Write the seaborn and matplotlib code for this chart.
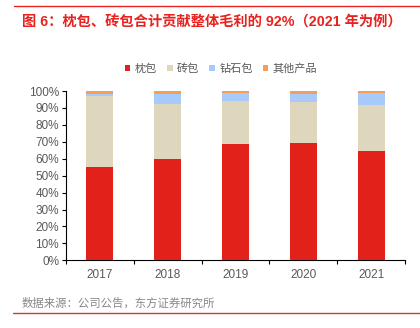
import matplotlib
matplotlib.use("Agg")
import matplotlib.pyplot as plt
import seaborn as sns
import pandas as pd
import numpy as np
from matplotlib.patches import Patch
from matplotlib.lines import Line2D

years = ["2017", "2018", "2019", "2020", "2021"]
series_names = ["枕包", "砖包", "钻石包", "其他产品"]
zhenbao = [55.0, 60.0, 68.6, 69.4, 64.3]
zhuanbao = [42.2, 32.4, 25.7, 23.9, 27.6]
zuanshibao = [1.0, 5.9, 4.5, 5.1, 6.9]
qita = [1.8, 1.7, 1.2, 1.6, 1.2]
colors = ["#E3211B", "#DFD6BE", "#A8CAFA", "#F79C5C"]
yticklabels = [f"{v}%" for v in range(0, 101, 10)]

sns.set_theme(style="white")
plt.rcParams['font.family'] = ['Liberation Sans', 'Noto Sans CJK SC', 'DejaVu Sans']

fig = plt.figure(figsize=(4.2, 3.28), dpi=100)
ax = fig.add_axes([66/420, 1-260.3/328, (405-66)/420, (260.3-91)/328])

df = pd.DataFrame({"year": years, "枕包": zhenbao, "砖包": zhuanbao,
                   "钻石包": zuanshibao, "其他产品": qita})
bottom = np.zeros(len(years))
for name, col in zip(series_names, colors):
    vals = np.array(df[name])
    sns.barplot(x=df["year"], y=bottom + vals, color=col, ax=ax, width=0.4,
                saturation=1, order=years)
    bottom = bottom + vals

# lower series drawn on top of the cumulative taller bars
for i, cont in enumerate(ax.containers):
    for p in cont.patches:
        p.set_zorder(10 - i)
        p.set_edgecolor("none")

ax.set_ylim(0, 100)
ax.set_xlim(-0.5, 4.5)
ax.set_yticks(range(0, 101, 10))
ax.set_yticklabels(yticklabels)
ax.set_xlabel("")
ax.set_ylabel("")
for s in ["top", "right"]:
    ax.spines[s].set_visible(False)
for s in ["left", "bottom"]:
    ax.spines[s].set_color("#000000")
    ax.spines[s].set_linewidth(0.8)
ax.tick_params(axis="y", which="major", length=3, width=0.8, color="black",
               labelsize=8.5, labelcolor="#595959", left=True, pad=2)
ax.tick_params(axis="x", which="major", length=0, labelsize=8.5,
               labelcolor="#595959", pad=6)
ax.set_xticks(np.arange(-0.5, 5, 1), minor=True)
ax.tick_params(axis="x", which="minor", length=3, width=0.8, color="black", bottom=True)

handles = [Patch(facecolor=c, edgecolor="none") for c in colors]
fig.legend(handles, series_names, loc="center", bbox_to_anchor=(221/420, 1-68.3/328),
           ncol=4, frameon=False, fontsize=8, handlelength=0.5, handleheight=0.5,
           handletextpad=0.4, columnspacing=0.9, labelcolor="#595959")

fig.text(22/420, 1-23/328, "图 6：枕包、砖包合计贡献整体毛利的 92%（2021 年为例）",
         color="#E8231F", fontsize=10.3, fontweight="bold", va="center", ha="left")
fig.add_artist(Line2D([14/420, 1], [1-6/328, 1-6/328], color="#E8231F", lw=1))
fig.add_artist(Line2D([13/420, 1], [1-313/328, 1-313/328], color="#D9372F", lw=1))
fig.text(22/420, 1-303/328, "数据来源：公司公告，东方证券研究所", color="#888888",
         fontsize=8.2, va="center", ha="left")

fig.savefig("out.png", dpi=100)
